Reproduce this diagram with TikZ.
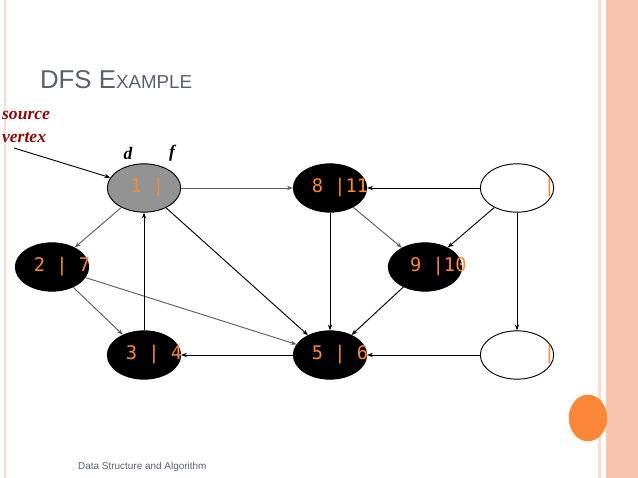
\documentclass[tikz,border=0pt]{standalone}
\usepackage{fontspec}
\setmainfont{Liberation Sans}
\newfontfamily\serifti{Liberation Serif}
\newfontfamily\monofont{DejaVu Sans Mono}
\usepackage{xcolor}
\definecolor{SlidePink}{RGB}{248, 196, 176}
\definecolor{SlideOrange}{RGB}{250, 136, 56}
\definecolor{TitleGray}{RGB}{90, 96, 110}
\definecolor{EdgeGray}{RGB}{84, 94, 112}
\definecolor{SrcRed}{RGB}{140, 10, 10}
\usetikzlibrary{shapes.geometric, arrows.meta, positioning}

\begin{document}
\begin{tikzpicture}[
        x=0.03cm, y=-0.03cm,
        vert/.style={ellipse, draw=black, thick, minimum width=2.2cm, minimum height=1.45cm, inner sep=0pt},
        done/.style={vert, fill=black},
        lab/.style={text=SlideOrange, font=\monofont\fontsize{16}{16}\selectfont},
        tree/.style={-{Stealth[length=5pt]}, thick, color=EdgeGray},
        back/.style={-{Stealth[length=5pt]}, thick, color=black}
    ]
        % --- SLIDE FRAME ---
        \useasboundingbox (0,0) rectangle (638,478);
        \fill[SlidePink!60] (4,0) rectangle (6,478);
        \fill[SlidePink!60] (598,0) rectangle (601,478);
        \fill[SlidePink] (606,0) rectangle (638,478);
        \node[ellipse, fill=SlideOrange, minimum width=1.15cm, minimum height=1.4cm] (dot) at (588,418) {};
        \node[anchor=west, text=TitleGray, font=\fontsize{22}{22}\selectfont] (title) at (36,80) {DFS E\fontsize{16}{16}\selectfont XAMPLE};
        \node[anchor=west, text=TitleGray, font=\fontsize{8.5}{8.5}\selectfont] (foot) at (74,467) {Data Structure and Algorithm};

        % --- VERTICES ---
        \node[vert, fill=gray!85] (v1) at (144,188) {};
        \node[done] (v8) at (330,188) {};
        \node[vert, fill=white] (va) at (517,188) {};
        \node[done] (v2) at (52,267) {};
        \node[done] (v9) at (425,267) {};
        \node[done] (v3) at (144,355) {};
        \node[done] (v5) at (330,355) {};
        \node[vert, fill=white] (vb) at (517,355) {};

        \node[lab] at ([xshift=0.1cm]v1) {1 |};
        \node[lab] at ([xshift=0.3cm]v8) {8 |11};
        \node[lab] at ([xshift=0.3cm]va) {\ \ \ \ |};
        \node[lab] at ([xshift=0.3cm]v2) {2 | 7};
        \node[lab] at ([xshift=0.4cm]v9) {9 |10};
        \node[lab] at ([xshift=0.3cm]v3) {3 | 4};
        \node[lab] at ([xshift=0.3cm]v5) {5 | 6};
        \node[lab] at ([xshift=0.3cm]vb) {\ \ \ \ |};

        % --- SOURCE LABELS ---
        \node[anchor=west, text=SrcRed, font=\serifti\bfseries\itshape\fontsize{15}{15}\selectfont] (src) at (-2,115) {source};
        \node[anchor=west, text=SrcRed, font=\serifti\bfseries\itshape\fontsize{15}{15}\selectfont] (vtx) at (-2,138) {vertex};
        \node[font=\serifti\bfseries\itshape\fontsize{15}{15}\selectfont] (d) at (128,153) {d};
        \node[font=\serifti\bfseries\itshape\fontsize{15}{15}\selectfont] (f) at (172,153) {f};
        \coordinate (s) at (14,148);
        \draw[back] (s) -- (v1);

        % --- EDGES ---
        \draw[tree] (v1) -- (v8);
        \draw[tree] (v1) -- (v2);
        \draw[tree] (v2) -- (v3);
        \draw[tree] (v2) -- (v5);
        \draw[tree] (v8) -- (v9);
        \draw[back] (v3) -- (v1);
        \draw[back] (v1) -- (v5);
        \draw[back] (v8) -- (v5);
        \draw[back] (va) -- (v8);
        \draw[back] (va) -- (v9);
        \draw[back] (va) -- (vb);
        \draw[back] (v9) -- (v5);
        \draw[back] (v5) -- (v3);
        \draw[back] (vb) -- (v5);
    \end{tikzpicture}
\end{document}
